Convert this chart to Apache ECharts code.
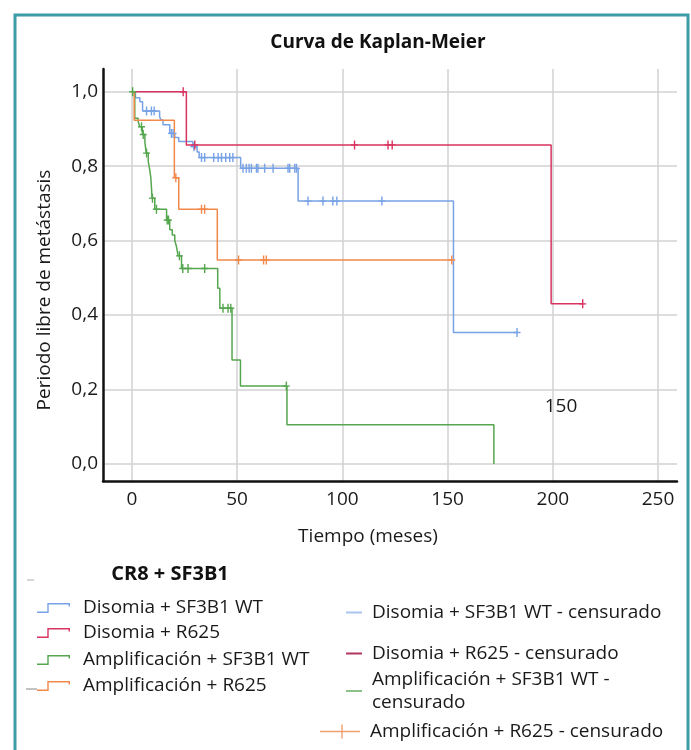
<!DOCTYPE html>
<html>
<head>
<meta charset="utf-8">
<script src="https://cdn.jsdelivr.net/npm/echarts@6/dist/echarts.min.js"></script>
<style>html,body{margin:0;padding:0;background:#fff;}#c{width:691px;height:750px;}</style>
</head>
<body>
<div id="c"></div>
<script>
// ---- data (time in months, survival proportion) ----
var xTicks = [0, 50, 100, 150, 200, 250];
var yTicks = [0, 0.2, 0.4, 0.6, 0.8, 1.0];

var disomiaWT = [[0,1],[1.7,0.984],[3.8,0.973],[5.1,0.948],[13.2,0.933],[13.8,0.924],[14.8,0.911],[18.0,0.888],[20.4,0.877],[22.3,0.866],[29.0,0.852],[31.0,0.838],[32.0,0.823],[51.7,0.794],[79.0,0.706],[152.8,0.353],[183,0.353]];
var disomiaWTCens = [7.0,9.3,10.6,18.8,19.6,29.5,33.1,34.6,38.9,41.0,42.6,44.6,46.5,48.0,52.8,54.4,55.7,56.8,59.2,59.9,63.1,67.1,74.2,75.0,77.4,78.2,83.7,90.8,95.5,97.4,118.8,183];

var disomiaR625 = [[0,1],[25.9,0.857],[199.2,0.43],[214.2,0.43]];
var disomiaR625Cens = [24.4,29.9,105.8,121.7,123.7,214.2];

var amplifWT = [[0,1],[1.4,0.929],[3.0,0.92],[3.8,0.906],[5.0,0.885],[6.2,0.865],[6.8,0.835],[7.8,0.812],[8.5,0.79],[9.0,0.77],[9.3,0.745],[9.6,0.714],[10.9,0.684],[16.5,0.655],[18.0,0.629],[19.2,0.615],[20.4,0.600],[21.2,0.584],[22.0,0.559],[23.6,0.525],[40.8,0.472],[41.8,0.418],[47.6,0.279],[51.6,0.209],[73.7,0.105],[172,0]];
var amplifWTCens = [0.4,4.6,5.4,7.0,9.8,11.7,16.8,17.4,22.6,24.2,26.7,34.6,43.3,45.7,47.0,73.4];

var amplifR625 = [[0,1],[1.1,0.923],[20.2,0.769],[22.3,0.684],[40.6,0.548],[152,0.548]];
var amplifR625Cens = [20.9,33.1,34.6,50.7,62.6,63.9,152];

var names = ['Disomia + SF3B1 WT','Disomia + R625','Amplificación + SF3B1 WT','Amplificación + R625'];
var censNames = ['Disomia + SF3B1 WT - censurado','Disomia + R625 - censurado','Amplificación + SF3B1 WT - censurado','Amplificación + R625 - censurado'];
var colors = ['#78a2e6','#d8345f','#55a64e','#f2894a'];
var censLegendColors = ['#a9c5ef','#b23560','#8fc28a','#f0a070'];

// ---- helpers ----
function survAt(curve, t){
  var s = curve[0][1];
  for (var i=0;i<curve.length;i++){ if (curve[i][0] <= t) s = curve[i][1]; }
  return s;
}
function censPoints(curve, times){ return times.map(function(t){ return [t, survAt(curve,t)]; }); }

var curves = [disomiaWT, disomiaR625, amplifWT, amplifR625];
var cens = [disomiaWTCens, disomiaR625Cens, amplifWTCens, amplifR625Cens];

var FONT = 'Open Sans';
var FS = 19;
var plusPath = 'path://M2.8,0 L4.2,0 L4.2,9 L2.8,9 Z M0,3.8 L7,3.8 L7,5.2 L0,5.2 Z';
var stepIcon = 'path://M0,8.6 L10.3,8.6 L10.3,0 L33,0 L33,3.5 L31.6,3.5 L31.6,1.4 L11.7,1.4 L11.7,10 L0,10 Z';
var dashIcon = 'path://M0,0 L16,0 L16,2 L0,2 Z';
var crossIcon = 'path://M0,6.3 L40,6.3 L40,7.7 L0,7.7 Z M21.3,0 L22.7,0 L22.7,14 L21.3,14 Z';

var series = [];
for (var i=0;i<4;i++){
  series.push({
    name: names[i], type:'line', step:'end', data: curves[i], showSymbol:false, symbol:'none',
    lineStyle:{color:colors[i], width:1.5}, itemStyle:{color:colors[i]}, z:3, animation:false
  });
}
for (var j=0;j<4;j++){
  series.push({
    name: censNames[j], type:'scatter', data: censPoints(curves[j], cens[j]),
    symbol: plusPath, symbolSize:[7,9], itemStyle:{color:colors[j], opacity:1}, z:4, animation:false
  });
}

var leftRowsY = [608, 633, 660, 686];
var rightRowsY = [612, 653, 691, 731];
var legends = [];
for (var k=0;k<4;k++){
  legends.push({
    data:[names[k]], left:37, top:leftRowsY[k]-11, orient:'horizontal', selectedMode:false,
    icon: stepIcon, itemWidth:33, itemHeight:10, padding:0,
    itemStyle:{borderWidth:0},
    textStyle:{fontFamily:FONT, fontSize:FS, color:'#1a1a1a', lineHeight:22, padding:[0,0,0,8]}
  });
}
for (var m=0;m<4;m++){
  var isCross = (m===3);
  legends.push({
    data:[censNames[m]], left: isCross ? 320 : 346, top: rightRowsY[m]-(m===2?23:11), orient:'horizontal', selectedMode:false,
    icon: isCross ? crossIcon : dashIcon, itemWidth: isCross ? 40 : 16, itemHeight: isCross ? 14 : 2, padding:0,
    itemStyle:{color:censLegendColors[m], borderWidth:0},
    formatter: function(n){ return n === 'Amplificación + SF3B1 WT - censurado' ? 'Amplificación + SF3B1 WT -\ncensurado' : n; },
    textStyle:{fontFamily:FONT, fontSize:FS, color:'#1a1a1a', lineHeight:23, padding:[0,0,0,5]}
  });
}

var chart = echarts.init(document.getElementById('c'), null, {renderer:'canvas'});
chart.setOption({
  backgroundColor:'#ffffff',
  animation:false,
  grid:{left:103, right:14, top:69, bottom:269, containLabel:false},
  xAxis:{
    type:'value', min:-13.7, max:259,
    axisLine:{show:true, onZero:false, lineStyle:{color:'#111', width:2.5}},
    axisTick:{show:false, customValues:xTicks},
    axisLabel:{customValues:xTicks, fontFamily:FONT, fontSize:FS, color:'#1a1a1a', margin:9},
    splitLine:{show:true, lineStyle:{color:'#d2d2d2', width:1.5}}
  },
  yAxis:{
    type:'value', min:-0.046, max:1.061,
    axisLine:{show:true, onZero:false, lineStyle:{color:'#111', width:2.5}},
    axisTick:{show:false, customValues:yTicks},
    axisLabel:{customValues:yTicks, fontFamily:FONT, fontSize:FS, color:'#1a1a1a', margin:5,
      formatter:function(v){ return v.toFixed(1).replace('.', ','); }},
    splitLine:{show:true, lineStyle:{color:'#d2d2d2', width:1.5}}
  },
  legend: legends,
  series: series,
  graphic:[
    {type:'rect', shape:{x:15, y:15, width:673, height:760}, style:{fill:null, stroke:'#3d9ca8', lineWidth:3}, silent:true},
    {type:'text', x:378, y:43, style:{text:'Curva de Kaplan-Meier', fontFamily:FONT, fontWeight:'bold', fontSize:19, fill:'#111', textAlign:'center', textVerticalAlign:'middle'}},
    {type:'text', x:45, y:290, rotation:Math.PI/2, style:{text:'Periodo libre de metástasis', fontFamily:FONT, fontSize:FS, fill:'#1a1a1a', textAlign:'center', textVerticalAlign:'middle'}},
    {type:'text', x:368, y:537, style:{text:'Tiempo (meses)', fontFamily:FONT, fontSize:FS, fill:'#1a1a1a', textAlign:'center', textVerticalAlign:'middle'}},
    {type:'text', x:561, y:407, style:{text:'150', fontFamily:FONT, fontSize:FS, fill:'#1a1a1a', textAlign:'center', textVerticalAlign:'middle'}},
    {type:'text', x:170, y:574, style:{text:'CR8 + SF3B1', fontFamily:FONT, fontWeight:'bold', fontSize:20, fill:'#111', textAlign:'center', textVerticalAlign:'middle'}},
    {type:'line', shape:{x1:27, y1:580, x2:34, y2:580}, style:{stroke:'#c8c8c8', lineWidth:1.5}},
    {type:'line', shape:{x1:26, y1:689, x2:37, y2:689}, style:{stroke:'#b0b0b0', lineWidth:1.5}}
  ]
});
</script>
</body>
</html>
